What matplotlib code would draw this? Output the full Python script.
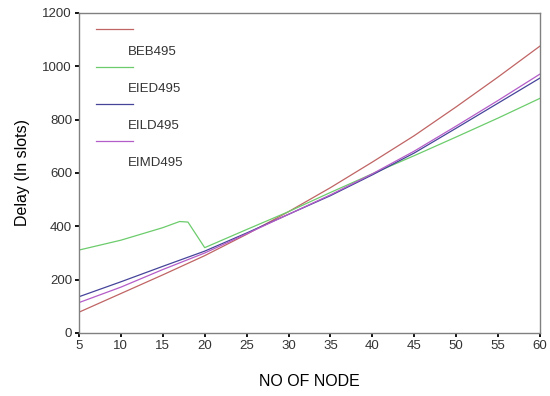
import matplotlib
matplotlib.use("Agg")
import matplotlib.pyplot as plt
from matplotlib.lines import Line2D

plt.rcParams["font.family"] = ["Liberation Sans", "DejaVu Sans"]

# data
nodes = [5, 10, 15, 20, 25, 30, 35, 40, 45, 50, 55, 60]
beb495 = [78, 148, 218, 290, 370, 455, 545, 641, 740, 848, 960, 1076]
eild495 = [136, 192, 250, 307, 375, 445, 515, 593, 675, 768, 862, 956]
eimd495 = [114, 172, 238, 300, 372, 445, 518, 597, 682, 776, 872, 971]
eied_nodes = [5, 10, 15, 17, 18, 20, 25, 30, 35, 40, 45, 50, 55, 60]
eied495 = [311, 348, 395, 418, 416, 320, 388, 455, 527, 597, 665, 735, 806, 880]

labels = ["BEB495", "EIED495", "EILD495", "EIMD495"]
colors = ["#c06464", "#6ccc6c", "#45449a", "#b45cc8"]

fig = plt.figure(figsize=(5.5, 3.96), dpi=100)
ax = fig.add_axes([0.1436, 0.1591, 0.8382, 0.8081])

series = [(nodes, beb495), (eied_nodes, eied495), (nodes, eild495), (nodes, eimd495)]
for (xs, ys), c in zip(series, colors):
    ax.plot(xs, ys, color=c, lw=0.9)

ax.set_xlim(5, 60)
ax.set_ylim(0, 1200)
ax.set_xticks(range(5, 61, 5))
ax.set_yticks(range(0, 1201, 200))
ax.tick_params(direction="out", length=3, width=1.3, labelsize=9.5,
               colors="black", labelcolor="#333333", pad=2)
for s in ax.spines.values():
    s.set_color("#808080")
    s.set_linewidth(1.0)

ax.set_xlabel("NO OF NODE", fontsize=11.5, labelpad=16)
ax.set_ylabel("Delay (In slots)", fontsize=11.5, labelpad=9)

# legend drawn by hand: line on top, label below it
line_y = [0.95, 0.831, 0.716, 0.60]
text_y = [0.878, 0.763, 0.647, 0.531]
for lab, c, ly, ty in zip(labels, colors, line_y, text_y):
    ax.add_line(Line2D([0.037, 0.117], [ly, ly], color=c, lw=0.9,
                       transform=ax.transAxes))
    ax.text(0.106, ty, lab, transform=ax.transAxes, fontsize=9.5,
            va="center", ha="left", color="#333333")

fig.savefig("out.png", dpi=100)
